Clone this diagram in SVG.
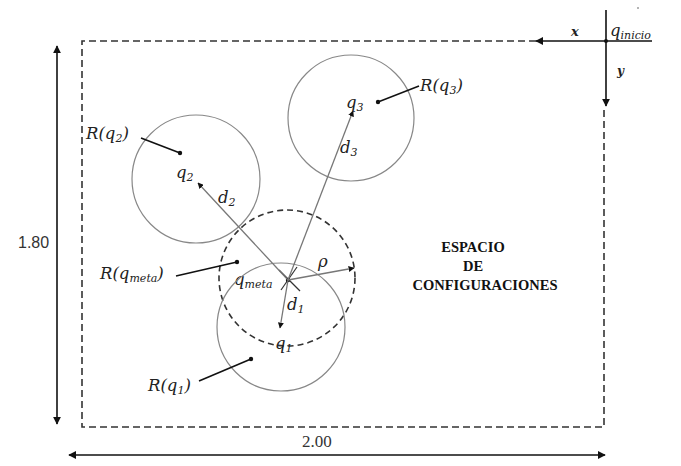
<svg xmlns="http://www.w3.org/2000/svg" width="681" height="466" viewBox="0 0 681 466">
<style>
.m{font-family:"DejaVu Serif","Liberation Serif",serif;font-style:italic;font-size:16.5px;fill:#222}
.s{font-size:11px}
.d{font-family:"Liberation Sans","Open Sans",sans-serif;font-size:16px;fill:#333}
.b{font-family:"Liberation Serif","Times New Roman",serif;font-weight:bold;font-size:14.5px;fill:#111;text-anchor:middle}
.c{fill:none;stroke:#888;stroke-width:1.2}
.g{stroke:#777;stroke-width:1.3;fill:none}
.k{stroke:#111;stroke-width:1.6;fill:none}
.dot{fill:#111}
</style>
<defs>
<marker id="ah" viewBox="0 0 10 10" refX="9" refY="5" markerWidth="5" markerHeight="5" orient="auto"><path d="M0,0 L10,5 L0,10 z" fill="#111"/></marker>
<marker id="ah2" viewBox="0 0 10 10" refX="9" refY="5" markerWidth="6" markerHeight="6" orient="auto" markerUnits="userSpaceOnUse"><path d="M0,0 L10,5 L0,10 z" fill="#111"/></marker>
<marker id="as" viewBox="0 0 10 10" refX="1" refY="5" markerWidth="5" markerHeight="5" orient="auto"><path d="M10,0 L0,5 L10,10 z" fill="#111"/></marker>
</defs>
<rect width="681" height="466" fill="#fff"/>

<g id="workspace">
<path d="M536,41 L82,41 L82,427 L604,427 L604,108" fill="none" stroke="#333" stroke-width="1.6" stroke-dasharray="7,4"/>
</g>

<g id="axes">
<line x1="652" y1="41" x2="536" y2="41" class="k" marker-end="url(#ah)"/>
<line x1="606" y1="10" x2="606" y2="106" class="k" marker-end="url(#ah)"/>
<circle cx="606" cy="41" r="2" class="dot"/>
<circle cx="638" cy="8" r="0.8" fill="#555"/>
<text x="571" y="36" class="m" style="font-weight:bold;font-size:13px">x</text>
<text x="617" y="75" class="m" style="font-weight:bold;font-size:12px">y</text>
<text x="610" y="36" class="m">q<tspan class="s" dy="3">inicio</tspan></text>
</g>

<g id="dimensions">
<line x1="57" y1="46" x2="57" y2="424" class="k" marker-start="url(#as)" marker-end="url(#ah)"/>
<text x="18" y="248" class="d">1.80</text>
<line x1="69" y1="455" x2="605" y2="455" class="k" marker-start="url(#as)" marker-end="url(#ah)"/>
<text x="302" y="447" class="d" style="font-family:'Liberation Serif',serif;font-size:17px">2.00</text>
</g>

<g id="label">
<text x="473" y="252" class="b">ESPACIO</text>
<text x="473" y="271" class="b">DE</text>
<text x="485" y="290" class="b">CONFIGURACIONES</text>
</g>

<g id="q3">
<circle cx="351" cy="118" r="63" class="c"/>
<circle cx="378" cy="102" r="2.2" class="dot"/>
<line x1="378" y1="102" x2="419" y2="86" class="k"/>
<text x="420" y="91" class="m">R(q<tspan class="s" dy="3">3</tspan><tspan dy="-3">)</tspan></text>
<text x="346" y="108" class="m">q<tspan class="s" dy="3">3</tspan></text>
</g>

<g id="q2">
<circle cx="196" cy="179" r="64" class="c"/>
<circle cx="180" cy="153" r="2.2" class="dot"/>
<line x1="180" y1="153" x2="141" y2="138" class="k"/>
<text x="86" y="139" class="m">R(q<tspan class="s" dy="3">2</tspan><tspan dy="-3">)</tspan></text>
<text x="176" y="178" class="m">q<tspan class="s" dy="3">2</tspan></text>
</g>

<g id="qmeta">
<circle cx="287" cy="278" r="68" fill="none" stroke="#333" stroke-width="1.6" stroke-dasharray="6,4"/>
<circle cx="237" cy="262" r="2.2" class="dot"/>
<line x1="237" y1="262" x2="176" y2="276" class="k"/>
<text x="100" y="279" class="m">R(q<tspan class="s" dy="3">meta</tspan><tspan dy="-3">)</tspan></text>
<line x1="279" y1="270" x2="300" y2="291" stroke="#333" stroke-width="1.2"/>
<line x1="281" y1="290" x2="297" y2="267" stroke="#333" stroke-width="1.2"/>
<circle cx="288" cy="280" r="2.2" class="dot"/>
<text x="234" y="285" class="m">q<tspan class="s" dy="3">meta</tspan></text>
</g>

<g id="q1">
<circle cx="281" cy="327" r="64" class="c"/>
<circle cx="251" cy="359" r="2.2" class="dot"/>
<line x1="251" y1="359" x2="199" y2="381" class="k"/>
<text x="148" y="391" class="m">R(q<tspan class="s" dy="3">1</tspan><tspan dy="-3">)</tspan></text>
<text x="275" y="349" class="m">q<tspan class="s" dy="3">1</tspan></text>
</g>

<g id="connectors">
<line x1="288" y1="280" x2="353" y2="111" class="g" marker-end="url(#ah2)"/>
<line x1="288" y1="280" x2="198" y2="183" class="g" marker-end="url(#ah2)"/>
<line x1="288" y1="280" x2="354" y2="268" class="g" marker-end="url(#ah2)"/>
<line x1="288" y1="280" x2="280" y2="328" class="g" marker-end="url(#ah2)"/>
<text x="340" y="153" class="m">d<tspan class="s" dy="3">3</tspan></text>
<text x="218" y="203" class="m">d<tspan class="s" dy="3">2</tspan></text>
<text x="318" y="267" class="m">ρ</text>
<text x="287" y="310" class="m">d<tspan class="s" dy="3">1</tspan></text>
</g>
</svg>
